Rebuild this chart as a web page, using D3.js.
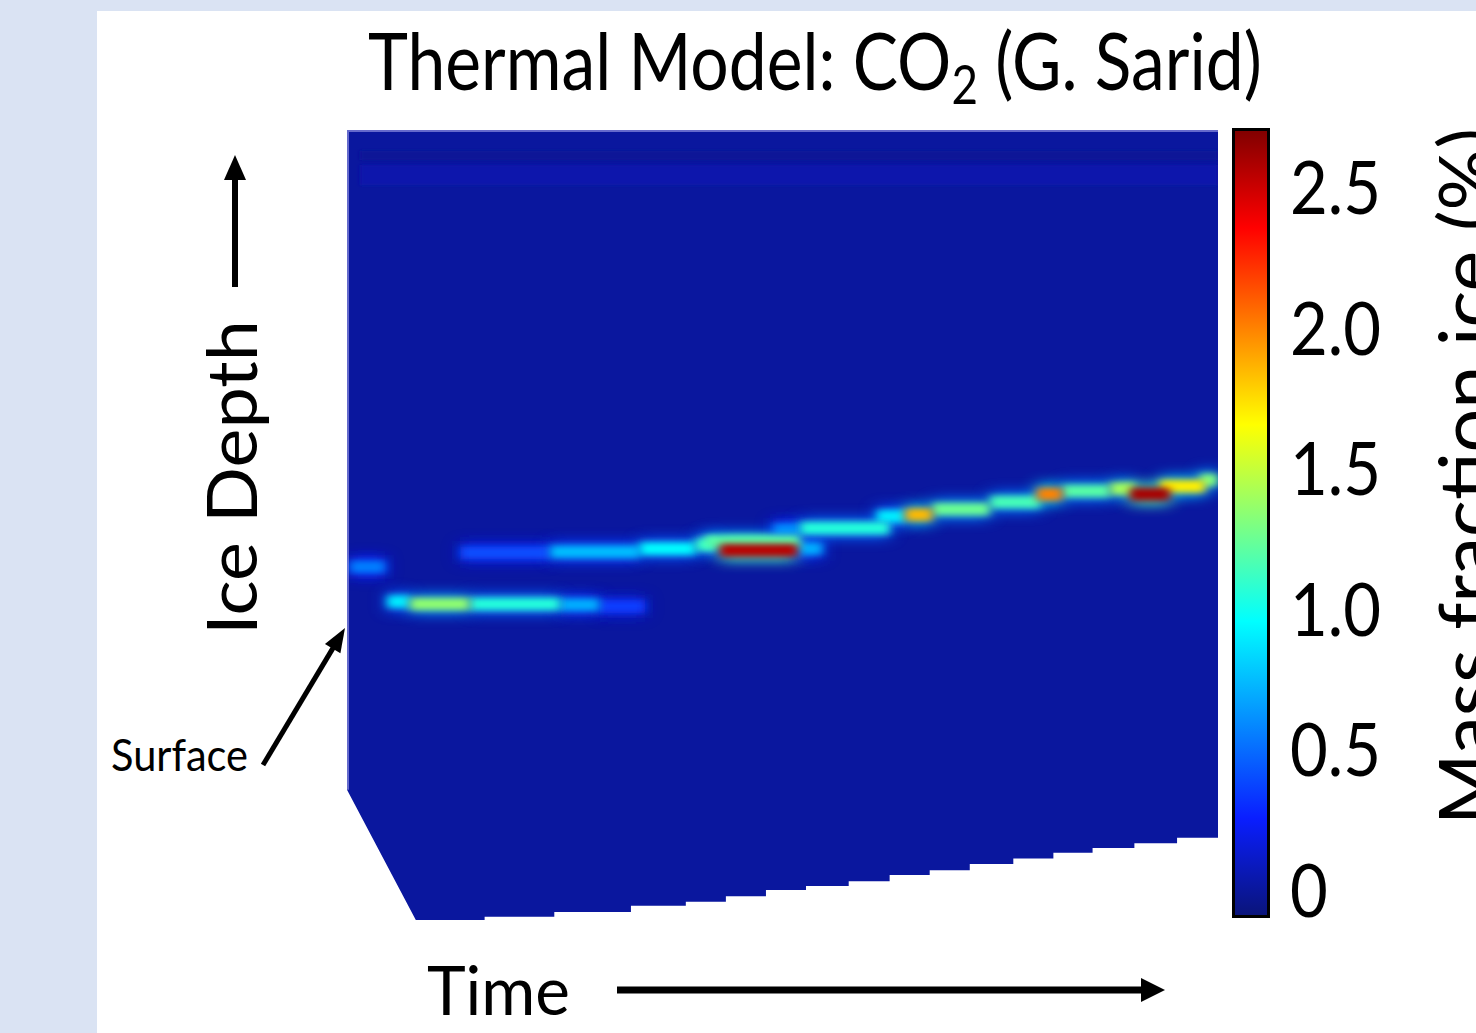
<!DOCTYPE html>
<html>
<head>
<meta charset="utf-8">
<script src="https://cdn.jsdelivr.net/npm/d3@7"></script>
<style>
  body { margin: 0; background: #dae3f3; }
  svg { display: block; font-family: Lato, "Open Sans", sans-serif; }
</style>
</head>
<body>
<div class="canvas"></div>
<script>
/* ----------- DATA ----------- */
// bottom edge of the model grid (the surface), time vs depth
const surfaceTime  = [0, 7.9, 15.8, 23.8, 32.6, 38.9, 43.5, 48.1, 52.7, 57.6, 62.3, 66.9, 71.5, 76.5, 81.1, 85.6, 90.4, 95.3, 100];
const surfaceDepth = [16.5, 0, 0.4, 1.0, 1.8, 2.3, 3.0, 3.8, 4.3, 4.9, 5.7, 6.3, 7.1, 7.8, 8.5, 9.1, 9.7, 10.4, 10.4];

// CO2 ice front patches: time span, depth, mass fraction (%)
const streakStart = [0.3, 4.6, 7.2, 14.1, 24.5, 29.0, 13.0, 23.3, 33.6, 40.0, 41.1, 42.8, 51.7, 48.9, 52.0, 60.8, 64.1, 67.2, 73.8, 79.2, 82.1, 87.6, 89.9, 93.3, 97.9];
const streakEnd   = [4.4, 7.2, 14.1, 24.5, 29.0, 34.2, 23.3, 33.6, 40.0, 42.3, 52.0, 51.7, 54.6, 52.0, 62.3, 64.1, 67.2, 73.8, 79.6, 82.1, 87.6, 90.5, 94.5, 98.5, 100];
const streakDepth = [44.7, 40.3, 40.0, 40.0, 39.9, 39.7, 46.5, 46.6, 47.0, 47.5, 47.9, 46.8, 47.0, 49.4, 49.6, 51.1, 51.3, 52.0, 52.9, 53.9, 54.3, 54.6, 53.9, 54.9, 55.7];
const streakValue = [0.55, 0.9, 1.35, 1.05, 0.7, 0.35, 0.4, 0.75, 0.95, 1.1, 1.2, 2.55, 0.7, 0.6, 1.05, 0.9, 1.85, 1.25, 1.15, 2.0, 1.2, 1.4, 2.6, 1.7, 1.3];

// faint layering near the top of the grid
const bandTop    = [97.4, 95.6];
const bandBottom = [96.2, 93.0];
const bandValue  = [-0.02, 0.035];

// colour bar
const colorTicks = [0, 0.5, 1.0, 1.5, 2.0, 2.5];
const colorRange = [-0.1, 2.71];
const jetValues  = [-0.1, 0.251, 0.954, 1.656, 2.359, 2.71];
const jetColors  = ['#0a1478', '#0a1eff', '#00ffff', '#ffff00', '#ff0000', '#800000'];

/* ----------- SVG ----------- */
const W = 1476, H = 1033;
const svg = d3.select('.canvas')
    .append('svg')
    .attr('width', W)
    .attr('height', H);

svg.append('rect').attr('width', W).attr('height', H).attr('fill', '#dae3f3');
svg.append('rect').attr('x', 97).attr('y', 11).attr('width', W - 97).attr('height', H - 11).attr('fill', '#fff');

const defs = svg.append('defs');

/* ----------- SCALES ----------- */
const x = d3.scaleLinear().domain([0, 100]).range([347, 1218]);
const y = d3.scaleLinear().domain([0, 100]).range([920, 130]);
const colour = d3.scaleLinear().domain(jetValues).range(jetColors).interpolate(d3.interpolateRgb);
const cy = d3.scaleLinear().domain(colorRange).range([918, 128]);

/* ----------- HEATMAP ----------- */
let outline = `M${x(0)},${y(100)}L${x(surfaceTime[0])},${y(surfaceDepth[0])}L${x(surfaceTime[1])},${y(surfaceDepth[1])}`;
for (let i = 2; i < surfaceTime.length; i++) {
    outline += `H${x(surfaceTime[i])}V${y(surfaceDepth[i])}`;
}
outline += `V${y(100)}Z`;

defs.append('clipPath').attr('id', 'grid').append('path').attr('d', outline);

const blur = (id, sd) => defs.append('filter').attr('id', id)
    .attr('x', '-150%').attr('y', '-300%').attr('width', '400%').attr('height', '700%')
    .append('feGaussianBlur').attr('stdDeviation', sd);
blur('halo', '9 6');
blur('core', '5 3.2');
blur('soft', '2 1.5');

const grid = svg.append('g').attr('clip-path', 'url(#grid)');

grid.append('rect')
    .attr('x', x(0)).attr('y', y(100))
    .attr('width', x(100) - x(0)).attr('height', y(0) - y(100))
    .attr('fill', colour(0));

grid.selectAll('rect.band')
    .data(bandTop.map((d, i) => ({ top: d, bottom: bandBottom[i], v: bandValue[i] })))
    .enter().append('rect')
    .attr('class', 'band')
    .attr('x', x(1.5)).attr('width', x(100) - x(1.5))
    .attr('y', d => y(d.top)).attr('height', d => y(d.bottom) - y(d.top))
    .attr('fill', d => colour(d.v))
    .attr('filter', 'url(#soft)');

const streaks = streakStart.map((t, i) => ({
    t0: t, t1: streakEnd[i], depth: streakDepth[i], v: streakValue[i]
}));

grid.selectAll('rect.halo')
    .data(streaks)
    .enter().append('rect')
    .attr('class', 'halo')
    .attr('x', d => x(d.t0)).attr('width', d => x(d.t1) - x(d.t0))
    .attr('y', d => y(d.depth) - 12).attr('height', 24)
    .attr('fill', d => colour(d.v * 0.45))
    .attr('opacity', 0.75)
    .attr('filter', 'url(#halo)');

grid.selectAll('rect.core')
    .data(streaks.slice().sort((a, b) => a.v - b.v))
    .enter().append('rect')
    .attr('class', 'core')
    .attr('x', d => x(d.t0)).attr('width', d => x(d.t1) - x(d.t0))
    .attr('y', d => y(d.depth) - 6.5).attr('height', 13)
    .attr('fill', d => colour(d.v))
    .attr('filter', 'url(#core)');

// pale edge along top and left of the grid
svg.append('path')
    .attr('d', `M${x(0) + 1},${y(surfaceDepth[0])}V${y(100) + 1}H${x(100)}`)
    .attr('fill', 'none').attr('stroke', '#8c8ee0').attr('stroke-width', 2).attr('opacity', 0.7);

/* ----------- COLOUR BAR ----------- */
const grad = defs.append('linearGradient').attr('id', 'jet')
    .attr('x1', 0).attr('y1', 1).attr('x2', 0).attr('y2', 0);
jetValues.forEach(v => {
    grad.append('stop')
        .attr('offset', (v - colorRange[0]) / (colorRange[1] - colorRange[0]))
        .attr('stop-color', colour(v));
});

svg.append('rect')
    .attr('x', 1233.5).attr('y', cy(colorRange[1]) + 1.5)
    .attr('width', 35).attr('height', cy(colorRange[0]) - cy(colorRange[1]) - 3)
    .attr('fill', 'url(#jet)')
    .attr('stroke', '#000').attr('stroke-width', 3);

const cAxis = d3.axisRight(cy)
    .tickValues(colorTicks)
    .tickSize(0)
    .tickPadding(20)
    .tickFormat(d => d === 0 ? '0' : d3.format('.1f')(d));

const cAxisGroup = svg.append('g')
    .attr('transform', 'translate(1270,0)')
    .call(cAxis);
cAxisGroup.select('.domain').remove();
cAxisGroup.selectAll('text')
    .attr('font-family', 'Lato, sans-serif')
    .attr('font-size', 74)
    .attr('fill', '#000')
    .attr('dy', '0.36em')
    .each(function () {
        const len = this.getComputedTextLength();
        d3.select(this).attr('textLength', len * 0.88).attr('lengthAdjust', 'spacingAndGlyphs');
    });

/* ----------- TEXT & ARROWS ----------- */
const fit = (sel, width) => sel.attr('textLength', width).attr('lengthAdjust', 'spacingAndGlyphs');

// title: squeeze horizontally to the reference width
const titleGroup = svg.append('g');
const title = titleGroup.append('text')
    .attr('font-size', 80).attr('fill', '#000');
title.append('tspan').text('Thermal Model: CO');
title.append('tspan').attr('font-size', 54).attr('dy', 14).text('2');
title.append('tspan').attr('dy', -14).text(' (G. Sarid)');
const titleWidth = title.node().getBBox().width;
titleGroup.attr('transform', `translate(368,90) scale(${894 / titleWidth},1)`);

fit(svg.append('text')
    .attr('transform', 'translate(257,635) rotate(-90)')
    .attr('font-size', 70)
    .text('Ice Depth'), 315);

fit(svg.append('text')
    .attr('x', 111).attr('y', 771)
    .attr('font-size', 45)
    .text('Surface'), 137);

fit(svg.append('text')
    .attr('x', 427).attr('y', 1015)
    .attr('font-size', 68)
    .text('Time'), 143);

fit(svg.append('text')
    .attr('transform', 'translate(1495,825) rotate(-90)')
    .attr('font-size', 78)
    .text('Mass fraction ice (%)'), 697);

const arrow = (x1, y1, x2, y2, w, headLen, headHalf) => {
    const len = Math.hypot(x2 - x1, y2 - y1);
    const ux = (x2 - x1) / len, uy = (y2 - y1) / len;
    const bx = x2 - ux * headLen, by = y2 - uy * headLen;
    svg.append('line')
        .attr('x1', x1).attr('y1', y1).attr('x2', bx + ux * 2).attr('y2', by + uy * 2)
        .attr('stroke', '#000').attr('stroke-width', w);
    svg.append('path')
        .attr('d', `M${x2},${y2}L${bx - uy * headHalf},${by + ux * headHalf}L${bx + uy * headHalf},${by - ux * headHalf}Z`)
        .attr('fill', '#000');
};

arrow(235, 287, 235, 155, 6, 25, 11);
arrow(263, 765, 345, 628, 5, 24, 9);
arrow(617, 990, 1165, 990, 7, 24, 12);
</script>
</body>
</html>
